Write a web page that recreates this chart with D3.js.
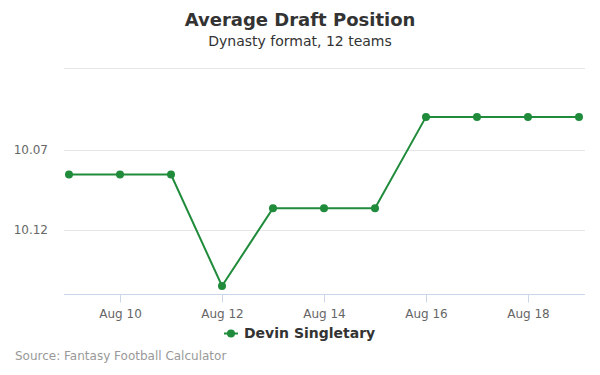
<!DOCTYPE html>
<html>
<head>
<meta charset="utf-8">
<script src="https://cdn.jsdelivr.net/npm/d3@7"></script>
<style>
  body { margin: 0; background: #fff; }
  svg { font-family: "DejaVu Sans", sans-serif; display: block; }
</style>
</head>
<body>
<svg id="chart" width="600" height="375"></svg>
<script>
// days of August 2019 and the ADP on each
const days = [9, 10, 11, 12, 13, 14, 15, 16, 17, 18, 19];
const adp = [10.0855, 10.0855, 10.0855, 10.155, 10.1065, 10.1065, 10.1065, 10.0495, 10.0495, 10.0495, 10.0495];
const yTicks = [10.07, 10.12];
const xTickDays = [10, 12, 14, 16, 18];
const seriesName = "Devin Singletary";

const svg = d3.select("#chart");
const color = "#1f8b3b";

const margin = {left: 64, right: 585, top: 68, bottom: 294};

const date = d => new Date(Date.UTC(2019, 7, d));

// small padding either side like highcharts
const x = d3.scaleUtc()
  .domain([new Date(date(9).getTime() - 0.098 * 864e5), new Date(date(19).getTime() + 0.118 * 864e5)])
  .range([margin.left, margin.right]);

// reversed: lower ADP on top
const y = d3.scaleLinear()
  .domain([10.019, 10.16])
  .range([margin.top, margin.bottom]);

// title
svg.append("text")
  .attr("x", 300).attr("y", 26)
  .attr("text-anchor", "middle")
  .attr("font-size", 18).attr("font-weight", "bold")
  .attr("fill", "#333")
  .text("Average Draft Position");

svg.append("text")
  .attr("x", 300).attr("y", 46)
  .attr("text-anchor", "middle")
  .attr("font-size", 14)
  .attr("fill", "#333")
  .text("Dynasty format, 12 teams");

// gridlines (top of plot plus the ticks)
svg.append("g")
  .selectAll("line")
  .data([y.domain()[0]].concat(yTicks))
  .join("line")
  .attr("x1", margin.left).attr("x2", margin.right)
  .attr("y1", d => Math.round(y(d)) + 0.5)
  .attr("y2", d => Math.round(y(d)) + 0.5)
  .attr("stroke", "#e6e6e6");

svg.append("g")
  .selectAll("text")
  .data(yTicks)
  .join("text")
  .attr("x", 48)
  .attr("y", d => y(d) + 4.5)
  .attr("text-anchor", "end")
  .attr("font-size", 12)
  .attr("fill", "#666")
  .text(d => d3.format(".2f")(d));

// x axis
const xAxis = svg.append("g")
  .attr("transform", `translate(0,${margin.bottom + 0.5})`)
  .call(d3.axisBottom(x)
    .tickValues(xTickDays.map(date))
    .tickFormat(d3.utcFormat("Aug %-d"))
    .tickSize(8)
    .tickPadding(7));

xAxis.select(".domain").attr("stroke", "#ccd6eb").attr("d", `M${margin.left},0H${margin.right}`);
xAxis.selectAll(".tick line").attr("stroke", "#ccd6eb");
xAxis.selectAll(".tick text")
  .attr("font-family", "DejaVu Sans, sans-serif")
  .attr("font-size", 12)
  .attr("fill", "#666");

// series
const pts = days.map((d, i) => ({date: date(d), value: adp[i]}));

const line = d3.line()
  .x(d => x(d.date))
  .y(d => y(d.value));

svg.append("path")
  .datum(pts)
  .attr("d", line)
  .attr("fill", "none")
  .attr("stroke", color)
  .attr("stroke-width", 2);

svg.append("g")
  .selectAll("circle")
  .data(pts)
  .join("circle")
  .attr("cx", d => x(d.date))
  .attr("cy", d => y(d.value))
  .attr("r", 4)
  .attr("fill", color);

// legend
const legend = svg.append("g").attr("transform", "translate(224,333)");
legend.append("line")
  .attr("x1", 0).attr("x2", 14)
  .attr("y1", 0.5).attr("y2", 0.5)
  .attr("stroke", color).attr("stroke-width", 2);
legend.append("circle")
  .attr("cx", 7).attr("cy", 0.5).attr("r", 4)
  .attr("fill", color);
legend.append("text")
  .attr("x", 20).attr("y", 4.5)
  .attr("font-size", 14).attr("font-weight", "bold")
  .attr("fill", "#333")
  .text(seriesName);

// credits
svg.append("text")
  .attr("x", 15).attr("y", 360)
  .attr("font-size", 12)
  .attr("fill", "#999")
  .text("Source: Fantasy Football Calculator");
</script>
</body>
</html>
